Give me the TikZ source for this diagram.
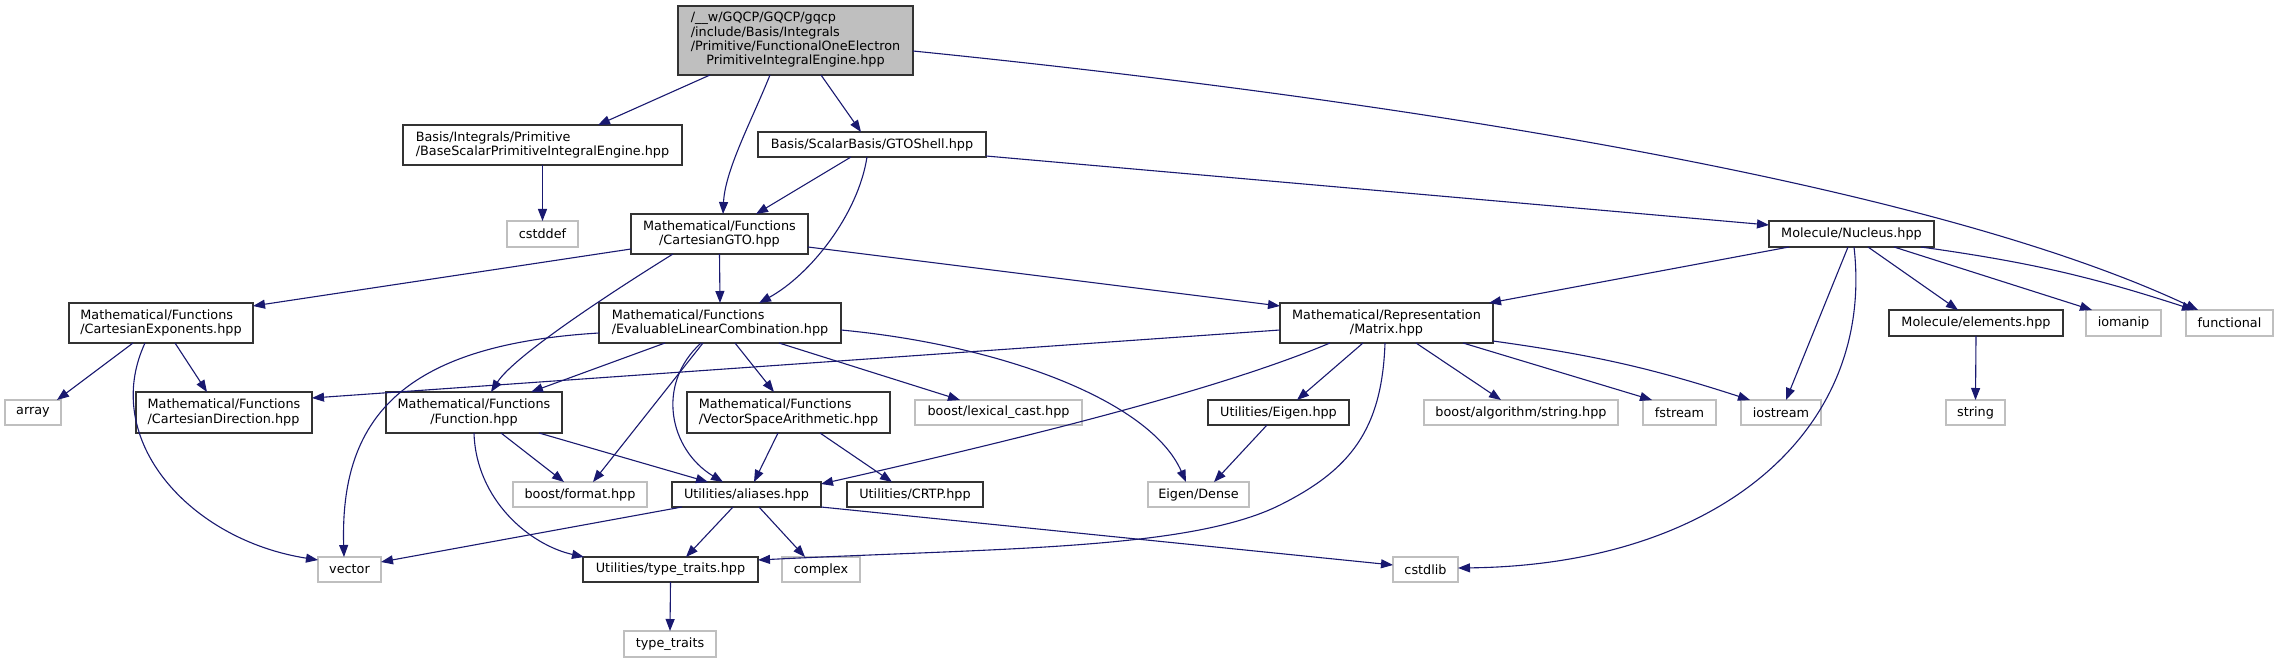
\documentclass[tikz,border=0pt]{standalone}
\usepackage{fontspec}
\setmainfont{DejaVu Sans}
\usetikzlibrary{arrows.meta}
\definecolor{edgeblue}{HTML}{191970}
\definecolor{extgray}{HTML}{BFBFBF}
\definecolor{rootgray}{HTML}{BFBFBF}
\definecolor{docborder}{HTML}{333333}
\newcommand{\nodefont}{\fontsize{12.8pt}{14.3pt}\selectfont}
\tikzset{
  doc/.style={draw=docborder, fill=white, line width=1.3pt, inner sep=0pt, outer sep=0pt, font=\nodefont},
  ext/.style={draw=extgray, fill=white, line width=1.3pt, inner sep=0pt, outer sep=0pt, font=\nodefont},
  dep/.style={draw=edgeblue, line width=1.1pt, -{Triangle[length=12pt,width=9pt]}},
}
\begin{document}
\begin{tikzpicture}[x=1pt,y=-1pt]
\fill[white] (0,0) rectangle (2278,663);
\useasboundingbox (0,0) rectangle (2278,663);
% nodes
\node[doc,fill=rootgray,minimum width=235pt,minimum height=69pt] (root) at (795.5,40.5)
  {\begin{tabular}{@{}l@{}}/\_\_w/GQCP/GQCP/gqcp\\/include/Basis/Integrals\\/Primitive/FunctionalOneElectron\\\multicolumn{1}{@{}c@{}}{PrimitiveIntegralEngine.hpp}\end{tabular}};
\node[doc,align=left,minimum width=279pt,minimum height=40pt] (base) at (542.5,145) {Basis/Integrals/Primitive\\/BaseScalarPrimitiveIntegralEngine.hpp};
\node[ext,minimum width=71pt,minimum height=26pt] (cstddef) at (542.5,234) {cstddef};
\node[doc,minimum width=228pt,minimum height=25pt] (gtoshell) at (872,144.5) {Basis/ScalarBasis/GTOShell.hpp};
\node[doc,align=center,minimum width=177pt,minimum height=40pt] (cgto) at (719.5,234) {Mathematical/Functions\\/CartesianGTO.hpp};
\node[doc,align=left,minimum width=184pt,minimum height=40pt] (cexp) at (161,323) {Mathematical/Functions\\/CartesianExponents.hpp};
\node[doc,align=left,minimum width=242pt,minimum height=40pt] (elc) at (720,323) {Mathematical/Functions\\/EvaluableLinearCombination.hpp};
\node[doc,align=center,minimum width=213pt,minimum height=40pt] (matrix) at (1386.5,323) {Mathematical/Representation\\/Matrix.hpp};
\node[doc,minimum width=165pt,minimum height=26pt] (nucleus) at (1851.5,234) {Molecule/Nucleus.hpp};
\node[doc,minimum width=174pt,minimum height=26pt] (elements) at (1976,323) {Molecule/elements.hpp};
\node[ext,minimum width=75pt,minimum height=26pt] (iomanip) at (2123.5,323) {iomanip};
\node[ext,minimum width=87pt,minimum height=26pt] (functional) at (2229.5,323) {functional};
\node[ext,minimum width=56pt,minimum height=25pt] (array) at (33,412.5) {array};
\node[doc,align=left,minimum width=176pt,minimum height=41pt] (cdir) at (224,412.5) {Mathematical/Functions\\/CartesianDirection.hpp};
\node[doc,align=center,minimum width=176pt,minimum height=41pt] (func) at (474,412.5) {Mathematical/Functions\\/Function.hpp};
\node[doc,align=left,minimum width=203pt,minimum height=41pt] (vsa) at (788.5,412.5) {Mathematical/Functions\\/VectorSpaceArithmetic.hpp};
\node[ext,minimum width=167pt,minimum height=25pt] (lexical) at (998.5,412.5) {boost/lexical\_cast.hpp};
\node[doc,minimum width=141pt,minimum height=25pt] (ueigen) at (1278.5,412.5) {Utilities/Eigen.hpp};
\node[ext,minimum width=194pt,minimum height=25pt] (balgo) at (1521,412.5) {boost/algorithm/string.hpp};
\node[ext,minimum width=73pt,minimum height=25pt] (fstream) at (1679.5,412.5) {fstream};
\node[ext,minimum width=80pt,minimum height=25pt] (iostream) at (1781,412.5) {iostream};
\node[ext,minimum width=59pt,minimum height=25pt] (string) at (1975.5,412.5) {string};
\node[ext,minimum width=134pt,minimum height=25pt] (bformat) at (580,494.5) {boost/format.hpp};
\node[doc,minimum width=149pt,minimum height=25pt] (aliases) at (746.5,494.5) {Utilities/aliases.hpp};
\node[doc,minimum width=136pt,minimum height=25pt] (crtp) at (915,494.5) {Utilities/CRTP.hpp};
\node[ext,minimum width=101pt,minimum height=25pt] (edense) at (1198.5,494.5) {Eigen/Dense};
\node[ext,minimum width=63pt,minimum height=25pt] (vector) at (349.5,569.5) {vector};
\node[doc,minimum width=175pt,minimum height=25pt] (uttraits) at (670.5,569.5) {Utilities/type\_traits.hpp};
\node[ext,minimum width=78pt,minimum height=25pt] (complex) at (821,569.5) {complex};
\node[ext,minimum width=65pt,minimum height=25pt] (cstdlib) at (1425.5,569.5) {cstdlib};
\node[ext,minimum width=92pt,minimum height=26pt] (ttraits) at (670,644) {type\_traits};
% edges
\draw[dep] ([xshift=-85.5pt]root.south) -- ([xshift=55.5pt]base.north);
\draw[dep] ([xshift=-25.5pt]root.south) .. controls (752,120) and (725,170) .. ([xshift=3.5pt]cgto.north);
\draw[dep] ([xshift=25.5pt]root.south) -- ([xshift=-11pt]gtoshell.north);
\draw[dep] ([yshift=-10.5pt]root.east) .. controls (1300,90) and (1900,170) .. ([xshift=-31.5pt]functional.north);
\draw[dep] (base.south) -- (cstddef.north);
\draw[dep] ([xshift=-21pt]gtoshell.south) -- ([xshift=36.5pt]cgto.north);
\draw[dep] ([xshift=-5pt]gtoshell.south) .. controls (858,215) and (810,275) .. ([xshift=39pt]elc.north);
\draw[dep] ([yshift=-11.5pt]gtoshell.east) -- ([yshift=9pt]nucleus.west);
\draw[dep] ([yshift=-15pt]cgto.west) -- ([yshift=-3pt]cexp.north east);
\draw[dep] ([xshift=-46.5pt]cgto.south) .. controls (615,290) and (515,355) .. ([xshift=17pt]func.north);
\draw[dep] (cgto.south) -- (elc.north);
\draw[dep] ([yshift=-13pt]cgto.east) -- ([yshift=-3pt]matrix.north west);
\draw[dep] ([xshift=-28pt]cexp.south) -- ([xshift=24pt]array.north);
\draw[dep] ([xshift=14pt]cexp.south) -- ([xshift=-17pt]cdir.north);
\draw[dep] ([xshift=-16pt]cexp.south) .. controls (100,440) and (190,540) .. ([yshift=-3pt]vector.north west);
\draw[dep] ([yshift=-10pt]elc.west) .. controls (400,345) and (340,420) .. ([xshift=-5.5pt]vector.north);
\draw[dep] ([xshift=-55pt]elc.south) -- ([xshift=57pt]func.north);
\draw[dep] ([xshift=-17pt]elc.south) -- ([xshift=13pt]bformat.north);
\draw[dep] ([xshift=-19pt]elc.south) .. controls (655,385) and (670,450) .. ([xshift=-23.5pt]aliases.north);
\draw[dep] ([xshift=15pt]elc.south) -- ([xshift=-14.5pt]vsa.north);
\draw[dep] ([xshift=59pt]elc.south) -- ([xshift=-38.5pt]lexical.north);
\draw[dep] ([yshift=-7pt]elc.east) .. controls (1000,345) and (1150,400) .. ([xshift=-12.5pt]edense.north);
\draw[dep] ([yshift=-7pt]matrix.west) -- ([yshift=14.5pt]cdir.east);
\draw[dep] ([xshift=-56.5pt]matrix.south) .. controls (1230,385) and (1060,430) .. ([yshift=-2pt]aliases.north east);
\draw[dep] ([xshift=-1.5pt]matrix.south) .. controls (1382,430) and (1350,470) .. (1280,505) .. controls (1190,550) and (1000,548) .. ([yshift=-3pt]uttraits.north east);
\draw[dep] ([xshift=-23.5pt]matrix.south) -- ([xshift=18.5pt]ueigen.north);
\draw[dep] ([xshift=29.5pt]matrix.south) -- ([xshift=-20pt]balgo.north);
\draw[dep] ([xshift=76.5pt]matrix.south) -- ([xshift=-27.5pt]fstream.north);
\draw[dep] ([yshift=2pt]matrix.south east) to[bend left=5] ([xshift=-31pt]iostream.north);
\draw[dep] ([xshift=-62.5pt]nucleus.south) -- ([xshift=-4pt]matrix.north east);
\draw[dep] ([xshift=-3.5pt]nucleus.south) -- ([xshift=5pt]iostream.north);
\draw[dep] ([xshift=2.5pt]nucleus.south) .. controls (1875,430) and (1720,565) .. ([yshift=1.5pt]cstdlib.east);
\draw[dep] ([xshift=16.5pt]nucleus.south) -- ([xshift=-18pt]elements.north);
\draw[dep] ([xshift=42.5pt]nucleus.south) -- ([xshift=-31.5pt]iomanip.north);
\draw[dep] ([xshift=69.5pt]nucleus.south) to[bend left=5] ([xshift=-35.5pt]functional.north);
\draw[dep] (elements.south) -- (string.north);
\draw[dep] ([xshift=27pt]func.south) -- ([xshift=-16pt]bformat.north);
\draw[dep] ([xshift=65pt]func.south) -- ([xshift=-38.5pt]aliases.north);
\draw[dep] (func.south) .. controls (476,500) and (530,545) .. ([xshift=1pt]uttraits.north west);
\draw[dep] ([xshift=-10.5pt]vsa.south) -- ([xshift=7.5pt]aliases.north);
\draw[dep] ([xshift=31.5pt]vsa.south) -- ([xshift=-23pt]crtp.north);
\draw[dep] ([xshift=-64.5pt]aliases.south) -- ([yshift=7.5pt]vector.east);
\draw[dep] ([xshift=-13.5pt]aliases.south) -- ([xshift=15.5pt]uttraits.north);
\draw[dep] ([xshift=12.5pt]aliases.south) -- ([xshift=-16pt]complex.north);
\draw[dep] (aliases.south east) -- ([yshift=4.5pt]cstdlib.west);
\draw[dep] ([xshift=-11.5pt]ueigen.south) -- ([xshift=15.5pt]edense.north);
\draw[dep] (uttraits.south) -- (ttraits.north);
\end{tikzpicture}
\end{document}
